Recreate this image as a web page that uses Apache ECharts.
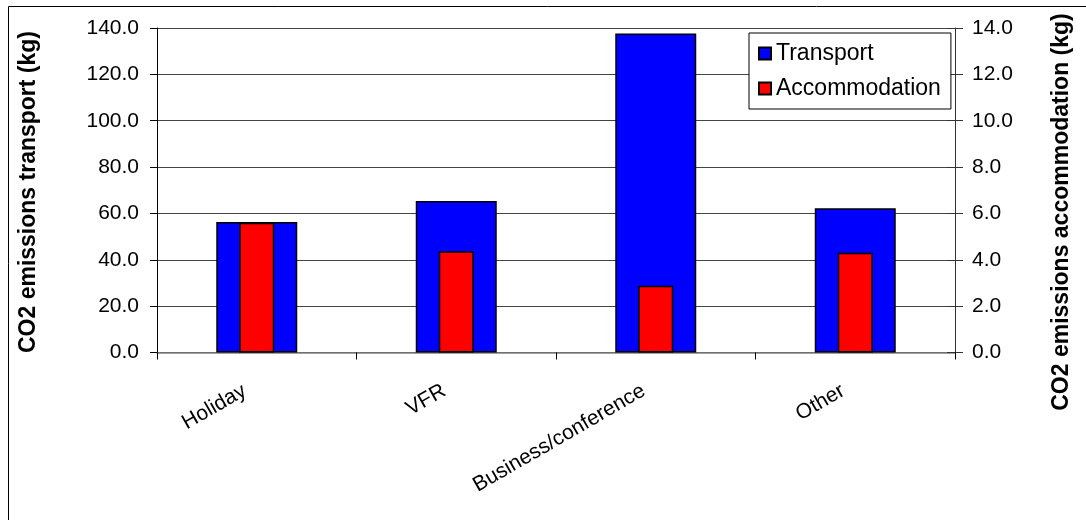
<!DOCTYPE html>
<html>
<head>
<meta charset="utf-8">
<script src="https://cdn.jsdelivr.net/npm/echarts@6/dist/echarts.min.js"></script>
<style>html,body{margin:0;padding:0;background:#fff;}#chart{width:1086px;height:520px;}</style>
</head>
<body>
<div id="chart"></div>
<script>
const categories = ['Holiday', 'VFR', 'Business/conference', 'Other'];
const transport = [56.3, 65.4, 137.6, 62.2];
const accommodation = [5.6, 4.37, 2.88, 4.3];
const leftTicks = [0, 140, 20];
const rightTicks = [0, 14, 2];
const leftTitle = 'CO2 emissions transport (kg)';
const rightTitle = 'CO2 emissions accommodation (kg)';

const FONT = '"Liberation Sans", Arial, sans-serif';
const chart = echarts.init(document.getElementById('chart'), null, {renderer: 'canvas'});
const grid = {left: 157, right: 131, top: 28, bottom: 167.5, outerBoundsMode: 'none', containLabel: false};
chart.setOption({
  animation: false,
  backgroundColor: '#fff',
  textStyle: {fontFamily: FONT, color: '#000'},
  graphic: [
    {type: 'line', shape: {x1: 8.5, y1: 6.5, x2: 1086, y2: 6.5}, style: {stroke: '#000', lineWidth: 1}},
    {type: 'line', shape: {x1: 8.5, y1: 6.5, x2: 8.5, y2: 520}, style: {stroke: '#000', lineWidth: 1}},
    {type: 'text', x: 29, y: 192, rotation: Math.PI / 2,
     style: {text: leftTitle, font: 'bold 23px "Liberation Sans", Arial, sans-serif', fill: '#000', textAlign: 'center', textVerticalAlign: 'middle'}},
    {type: 'text', x: 1062, y: 212, rotation: Math.PI / 2,
     style: {text: rightTitle, font: 'bold 23px "Liberation Sans", Arial, sans-serif', fill: '#000', textAlign: 'center', textVerticalAlign: 'middle'}}
  ],
  legend: {
    left: 749, top: 33,
    orient: 'vertical',
    itemWidth: 12, itemHeight: 12, itemGap: 12,
    padding: [9, 10, 9, 9],
    borderColor: '#000', borderWidth: 1,
    backgroundColor: '#fff',
    icon: 'rect',
    textStyle: {fontFamily: FONT, fontSize: 23, color: '#000'},
    data: ['Transport', 'Accommodation']
  },
  grid: grid,
  xAxis: [
    {
      type: 'category', data: categories, position: 'bottom',
      axisLine: {lineStyle: {color: '#808080', width: 1.5}},
      axisTick: {show: true, length: 7, lineStyle: {color: '#000'}},
      axisLabel: {rotate: 30, margin: 30, fontSize: 21, color: '#000', fontFamily: FONT, interval: 0, padding: [0, 14, 0, 0]},
      splitLine: {show: false}
    },
    {
      type: 'category', data: categories, show: false
    }
  ],
  yAxis: [
    {
      type: 'value', min: leftTicks[0], max: leftTicks[1], interval: leftTicks[2], position: 'left',
      axisLine: {show: true, lineStyle: {color: '#000', width: 1}},
      axisTick: {show: true, length: 7, lineStyle: {color: '#000'}},
      axisLabel: {formatter: v => v.toFixed(1), fontSize: 21, margin: 18, color: '#000', fontFamily: FONT},
      splitLine: {show: true, lineStyle: {color: '#444', width: 1}}
    },
    {
      type: 'value', min: rightTicks[0], max: rightTicks[1], interval: rightTicks[2], position: 'right',
      axisLine: {show: true, lineStyle: {color: '#333', width: 1}},
      axisTick: {show: true, length: 8, lineStyle: {color: '#333'}},
      axisLabel: {formatter: v => v.toFixed(1), fontSize: 21, margin: 17, color: '#000', fontFamily: FONT},
      splitLine: {show: false}
    },
    {
      type: 'value', min: rightTicks[0], max: rightTicks[1], interval: rightTicks[2], position: 'right',
      axisLine: {show: false},
      axisTick: {show: true, inside: true, length: 8, lineStyle: {color: '#333'}},
      axisLabel: {show: false},
      splitLine: {show: false}
    }
  ],
  series: [
    {
      name: 'Transport', type: 'bar', xAxisIndex: 0, yAxisIndex: 0, data: transport,
      barWidth: 81,
      itemStyle: {color: '#0000ff', borderColor: '#000', borderWidth: 1.5}
    },
    {
      name: 'Accommodation', type: 'bar', xAxisIndex: 1, yAxisIndex: 1, data: accommodation,
      barWidth: 35,
      itemStyle: {color: '#ff0000', borderColor: '#000', borderWidth: 1.5}
    }
  ]
});
</script>
</body>
</html>
